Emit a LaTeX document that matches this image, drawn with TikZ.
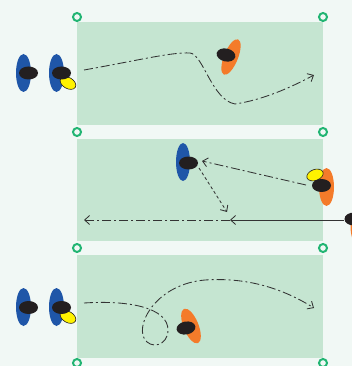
\documentclass[tikz,border=0pt]{standalone}
\usetikzlibrary{arrows.meta,shapes.geometric}
\definecolor{bg}{HTML}{F1F8F5}
\definecolor{pitch}{HTML}{C5E5D1}
\definecolor{ring}{HTML}{22B573}
\definecolor{pblue}{HTML}{1F56A8}
\definecolor{porange}{HTML}{F47B2A}
\definecolor{pyellow}{HTML}{FFF200}
\definecolor{phead}{HTML}{231F20}
\definecolor{ln}{HTML}{333333}
\tikzset{
  head/.style={ellipse, fill=phead, minimum width=19pt, minimum height=13pt, inner sep=0pt},
  dashdot/.style={draw=ln, line width=0.85pt, dash pattern=on 9pt off 3pt on 2pt off 3pt},
  shortdash/.style={draw=ln, line width=0.85pt, dash pattern=on 3pt off 2.5pt},
  solidline/.style={draw=ln, line width=0.85pt},
  tip/.style={-{Straight Barb[length=5pt,width=9pt]}},
  ringmark/.style={draw=ring, line width=2pt},
  pitchbox/.style={fill=pitch},
  legs/.style={fill=pyellow, draw=phead, line width=0.6pt}
}
\begin{document}
\begin{tikzpicture}[x=1pt,y=-1pt]
\useasboundingbox (0,0) rectangle (352,366);
\fill[bg] (0,0) rectangle (352,366);
% pitches
\fill[pitchbox] (77,22) rectangle (323,125);
\fill[pitchbox] (77,139) rectangle (323,241);
\fill[pitchbox] (77,255) rectangle (323,358);
% rings
\foreach \y in {17,132,248,363}{
  \draw[ringmark] (77,\y) circle (4);
  \draw[ringmark] (323,\y) circle (4);
}
% ---------- panel 1 ----------
\fill[pblue] (23.5,73) ellipse [x radius=7.5, y radius=19];
\node[head] (a1) at (28.5,73) {};
\fill[pblue] (56.5,73) ellipse [x radius=7.5, y radius=19];
\draw[legs, rotate around={-30:(68,83)}] (68,83) ellipse [x radius=8.5, y radius=5.5];
\node[head] (a2) at (61.5,73) {};
\fill[porange, rotate around={-22:(231,57)}] (231,57) ellipse [x radius=7, y radius=19];
\node[head, rotate=-12] (o1) at (226,55) {};
\coordinate (p1s) at (84,70);
\coordinate (p1e) at (314,75);
\draw[dashdot, tip] (p1s) .. controls (140,60) and (172,52) .. (190,53)
  .. controls (203,54) and (212,100) .. (235,104)
  .. controls (262,100) and (290,88) .. (p1e);
% ---------- panel 2 ----------
\fill[pblue] (183,162) ellipse [x radius=7, y radius=19];
\node[head] (b1) at (188.5,163) {};
\fill[porange] (326.5,187) ellipse [x radius=7.5, y radius=19];
\draw[legs, rotate around={20:(315,175)}] (315,175) ellipse [x radius=8.5, y radius=5.5];
\node[head] (o2) at (321.5,185.5) {};
\fill[porange] (358,226) ellipse [x radius=7.5, y radius=19];
\node[head] (o3) at (354,219) {};
\coordinate (q1s) at (306,185);
\coordinate (q1e) at (202,161);
\draw[dashdot, tip] (q1s) -- (q1e);
\coordinate (q2s) at (199,168);
\coordinate (q2e) at (227,212);
\draw[shortdash, tip] (q2s) -- (q2e);
\coordinate (q3s) at (344,220);
\coordinate (q3m) at (230,220);
\coordinate (q3e) at (84,220);
\draw[solidline, tip] (q3s) -- (q3m);
\draw[dashdot, tip] (q3m) -- (q3e);
% ---------- panel 3 ----------
\fill[pblue] (23.5,307) ellipse [x radius=7.5, y radius=19];
\node[head] (c1) at (28.5,307.5) {};
\fill[pblue] (56.5,307) ellipse [x radius=7.5, y radius=19];
\draw[legs, rotate around={-30:(68,317)}] (68,317) ellipse [x radius=8.5, y radius=5.5];
\node[head] (c2) at (61.5,307.5) {};
\fill[porange, rotate around={22:(191,326)}] (191,326) ellipse [x radius=7.5, y radius=18.5];
\node[head, rotate=10] (o4) at (186,328) {};
\coordinate (r1s) at (84,303);
\coordinate (r1e) at (314,308);
\draw[dashdot, tip] (r1s) .. controls (130,300) and (168,308) .. (168,330)
  .. controls (168,346) and (150,350) .. (144,338)
  .. controls (136,322) and (158,284) .. (205,280)
  .. controls (250,277) and (285,290) .. (r1e);
\end{tikzpicture}
\end{document}
